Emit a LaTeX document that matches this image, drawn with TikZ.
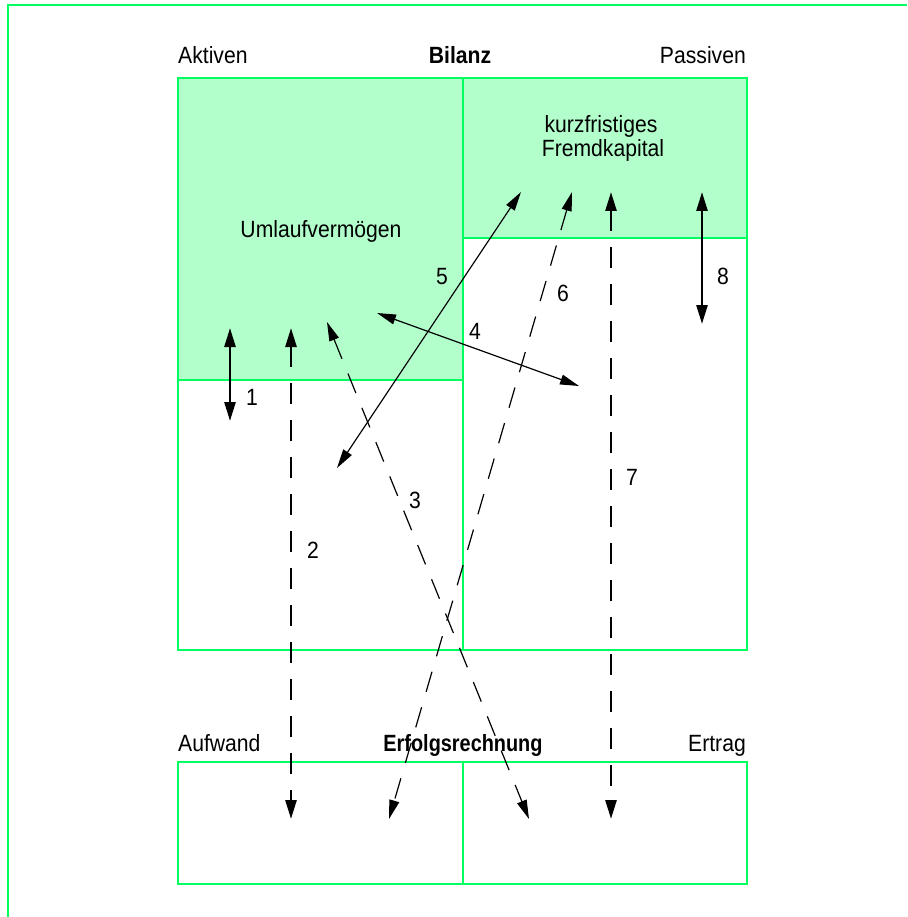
\documentclass[tikz,border=0pt]{standalone}
\usepackage{fontspec}
\setmainfont{Liberation Sans}[FakeStretch=0.9]
\usetikzlibrary{arrows.meta}

\definecolor{frameGreen}{RGB}{0,255,95}
\definecolor{fillGreen}{RGB}{178,255,204}

\tikzset{
  boxline/.style={draw=frameGreen, line width=2.4pt},
  greenarea/.style={fill=fillGreen},
  lbl/.style={inner sep=0pt, font=\fontsize{23.5}{23.5}\selectfont},
  boldlbl/.style={inner sep=0pt, font=\fontsize{23.5}{23.5}\selectfont\bfseries},
  num/.style={inner sep=0pt, font=\fontsize{23.5}{23.5}\selectfont, anchor=center},
  heavy/.style={line width=2.6pt, {Triangle[length=19pt, width=11pt]}-{Triangle[length=19pt, width=11pt]}},
  light/.style={line width=1.2pt, {Triangle[length=19pt, width=10pt]}-{Triangle[length=19pt, width=10pt]}},
  dashpat/.style={dash pattern=on 21pt off 16pt},
}

\begin{document}
\begin{tikzpicture}[x=1pt, y=-1pt]
\useasboundingbox (0,0) rectangle (907,917);

% outer frame (left and top edges)
\draw[frameGreen, line width=2.4pt] (8,917) -- (8,5) -- (907,5);

% balance sheet: shaded areas
\fill[greenarea] (178,78) rectangle (463,380);
\fill[greenarea] (463,78) rectangle (747,238);

% balance sheet grid
\draw[boxline] (178,78) rectangle (747,650);
\draw[boxline] (463,78) -- (463,650);
\draw[boxline] (178,380) -- (463,380);
\draw[boxline] (463,238) -- (747,238);

% income statement grid
\draw[boxline] (178,762) rectangle (747,884);
\draw[boxline] (463,762) -- (463,884);

% headings
\node[lbl, anchor=base west] (akt) at (178,64) {Aktiven};
\node[boldlbl, anchor=base] (bil) at (460,64) {Bilanz};
\node[lbl, anchor=base east] (pas) at (746,64) {Passiven};
\node[lbl, anchor=base west] (aufw) at (178,751) {Aufwand};
\node[boldlbl, anchor=base, xscale=0.94] (er) at (463,751) {Erfolgsrechnung};
\node[lbl, anchor=base east] (ertr) at (746,751) {Ertrag};

% area captions
\node[lbl, anchor=base] (uv) at (321,237) {Umlaufvermögen};
\node[lbl, anchor=base] (kf1) at (601,133) {kurzfristiges};
\node[lbl, anchor=base] (kf2) at (603,157) {Fremdkapital};

% arrow end points
\coordinate (a1t) at (230,328);  \coordinate (a1b) at (230,421);
\coordinate (a2t) at (291,328);  \coordinate (a2b) at (291,819);
\coordinate (a3t) at (327,322);  \coordinate (a3b) at (529,819);
\coordinate (a4l) at (377,313);  \coordinate (a4r) at (579,386);
\coordinate (a5t) at (521,192);  \coordinate (a5b) at (337,468);
\coordinate (a6t) at (572,192);  \coordinate (a6b) at (389,819);
\coordinate (a7t) at (611,192);  \coordinate (a7b) at (611,819);
\coordinate (a8t) at (702,192);  \coordinate (a8b) at (702,324);

% arrows
\draw[heavy] (a1t) -- (a1b);
\draw[heavy, dashpat] (a2t) -- (a2b);
\draw[light, dashpat] (a3t) -- (a3b);
\draw[light] (a4l) -- (a4r);
\draw[light] (a5t) -- (a5b);
\draw[light, dashpat] (a6t) -- (a6b);
\draw[heavy, dashpat] (a7t) -- (a7b);
\draw[heavy] (a8t) -- (a8b);

% arrow numbers
\node[num] (n1) at (252,397) {1};
\node[num] (n2) at (313,550) {2};
\node[num] (n3) at (415,500) {3};
\node[num] (n4) at (475,331) {4};
\node[num] (n5) at (442,277) {5};
\node[num] (n6) at (563,293) {6};
\node[num] (n7) at (632,477) {7};
\node[num] (n8) at (723,276) {8};
\end{tikzpicture}
\end{document}
